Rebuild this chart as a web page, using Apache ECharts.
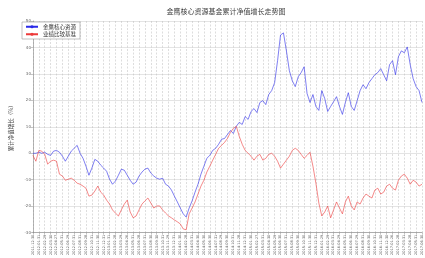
<!DOCTYPE html>
<html>
<head>
<meta charset="utf-8">
<script src="https://cdn.jsdelivr.net/npm/echarts@6/dist/echarts.min.js"></script>
<style>
  html, body { margin: 0; padding: 0; background: #fff; }
  #main { width: 425px; height: 258px; }
</style>
</head>
<body>
<div id="main"></div>
<script>
// 图表标题 / 图例
var chartTitle = '金鹰核心资源基金累计净值增长走势图';
var seriesNames = ['金鹰核心资源', '业绩比较基准'];

// x 轴刻度（每个刻度之间还有一个点）
var tickLabels = [
    '2011-12-30', '2012-01-31', '2012-02-29', '2012-03-30', '2012-04-27', '2012-05-31', '2012-06-29',
    '2012-07-31', '2012-08-31', '2012-09-28', '2012-10-31', '2012-11-30', '2012-12-31',
    '2013-01-31', '2013-02-28', '2013-03-29', '2013-04-26', '2013-05-31', '2013-06-28',
    '2013-07-31', '2013-08-30', '2013-09-30', '2013-10-31', '2013-11-29', '2013-12-31',
    '2014-01-30', '2014-02-28', '2014-03-31', '2014-04-30', '2014-05-30', '2014-06-30',
    '2014-07-31', '2014-08-29', '2014-09-30', '2014-10-31', '2014-11-28', '2014-12-31',
    '2015-01-30', '2015-02-27', '2015-03-31', '2015-04-30', '2015-05-29', '2015-06-30',
    '2015-07-31', '2015-08-31', '2015-09-30', '2015-10-30', '2015-11-30', '2015-12-31',
    '2016-01-29', '2016-02-29', '2016-03-31', '2016-04-29', '2016-05-31', '2016-06-30',
    '2016-07-29', '2016-08-31', '2016-09-30', '2016-10-31', '2016-11-30', '2016-12-30',
    '2017-01-26', '2017-02-28', '2017-03-31', '2017-04-28', '2017-05-31', '2017-06-30'
];

// 累计净值增长率 (%)
var fundData = [
    0.0, 0.0, 0.4, 0.0, 0.4, -0.4, -0.8, 0.8, 1.1, 0.4,
    -1.1, -3.0, -1.1, 0.8, 1.9, 3.0, 0.0, -1.9, -4.9, -8.3,
    -5.6, -2.3, -3.0, -4.5, -5.6, -6.8, -9.8, -11.7, -10.5, -8.3,
    -6.0, -6.4, -8.3, -10.2, -11.7, -10.9, -8.6, -7.1, -6.0, -5.6,
    -7.5, -8.6, -9.4, -9.8, -9.4, -11.7, -12.4, -13.9, -16.2, -18.4,
    -20.7, -22.9, -24.1, -20.7, -18.0, -14.7, -11.7, -7.9, -4.9, -1.9,
    -0.8, 1.1, 1.9, 3.4, 5.3, 5.6, 7.1, 8.6, 7.5, 10.2,
    11.7, 10.9, 13.9, 12.8, 15.8, 16.9, 15.4, 19.2, 19.9, 18.4,
    22.2, 23.7, 26.7, 35.0, 44.7, 45.5, 38.7, 31.2, 27.4, 25.2,
    28.9, 30.5, 32.7, 22.6, 19.2, 22.2, 17.7, 16.2, 23.7, 20.7,
    15.8, 17.7, 19.5, 21.4, 17.7, 14.7, 19.2, 22.9, 17.7, 16.2,
    19.9, 23.7, 25.9, 24.4, 26.7, 28.2, 29.7, 30.5, 32.0, 29.7,
    27.4, 33.5, 35.0, 29.7, 36.5, 38.7, 38.0, 40.2, 33.5, 28.2,
    25.2, 23.7, 19.2
];
var benchData = [
    -0.8, -3.0, 1.1, 0.8, -0.4, -4.1, -3.0, -2.6, -3.0, -7.9,
    -8.6, -10.2, -9.8, -9.4, -10.2, -11.3, -11.7, -12.4, -13.2, -16.2,
    -15.8, -14.3, -12.4, -14.7, -15.8, -17.7, -19.2, -21.4, -22.6, -23.7,
    -21.4, -19.2, -17.7, -22.2, -24.4, -23.7, -21.4, -19.2, -18.0, -16.9,
    -18.8, -20.7, -19.9, -19.9, -21.4, -22.6, -23.7, -24.4, -25.2, -25.9,
    -26.7, -28.6, -28.9, -22.9, -20.7, -18.4, -15.4, -12.4, -10.2, -7.1,
    -4.9, -2.6, -0.4, 1.9, 3.0, 4.1, 5.6, 7.9, 9.4, 10.2,
    6.4, 3.4, 1.1, 0.0, -1.1, -2.6, -1.1, -0.4, -2.6, -1.9,
    -0.4, 0.0, -1.1, -3.0, -5.6, -4.1, -2.6, -1.1, 1.1, 1.9,
    1.1, -0.4, -1.9, -0.8, 0.4, -4.9, -11.3, -18.8, -23.7, -22.2,
    -19.9, -24.4, -21.4, -18.4, -20.7, -22.9, -18.4, -16.2, -19.9, -21.4,
    -18.4, -19.2, -16.9, -15.4, -16.2, -16.9, -13.9, -13.2, -15.4, -14.7,
    -12.4, -11.7, -13.2, -13.9, -10.2, -8.6, -7.9, -9.4, -11.7, -10.2,
    -10.9, -12.4, -11.7
];

// 每两个刻度之间插一个中间日期
var categories = [];
for (var i = 0; i < tickLabels.length; i++) {
    categories.push(tickLabels[i]);
    if (i < tickLabels.length - 1) {
        categories.push(tickLabels[i].slice(0, 8) + '15');
    }
}

var myChart = echarts.init(document.getElementById('main'), null, {renderer: 'canvas'});
var option = {
    backgroundColor: '#fff',
    animation: false,
    title: {
        text: chartTitle,
        left: 221,
        textAlign: 'center',
        top: 3,
        textStyle: {
            fontSize: 7,
            fontWeight: 'normal',
            color: '#444',
            fontFamily: 'Noto Sans CJK SC'
        }
    },
    legend: {
        data: seriesNames,
        orient: 'vertical',
        left: 22,
        top: 22,
        itemWidth: 12,
        itemHeight: 4,
        itemGap: 2,
        padding: [2, 4, 2, 3],
        backgroundColor: '#fff',
        borderColor: '#999',
        borderWidth: 0.6,
        borderRadius: 0,
        textStyle: {fontSize: 5.5, color: '#333', fontFamily: 'Noto Sans CJK SC'}
    },
    grid: {left: 20, right: 3, top: 21, bottom: 23},
    xAxis: {
        type: 'category',
        boundaryGap: false,
        data: categories,
        axisLine: {onZero: false, lineStyle: {color: '#888', width: 0.6}},
        axisTick: {show: true, interval: 1, length: 2, lineStyle: {color: '#888', width: 0.5}},
        axisLabel: {
            interval: 1,
            rotate: 90,
            fontSize: 3.5,
            color: '#555',
            margin: 2,
            fontFamily: 'DejaVu Sans'
        },
        splitLine: {
            show: true,
            interval: 1,
            lineStyle: {type: [2, 1.5], color: '#bbb', width: 0.5}
        }
    },
    yAxis: {
        type: 'value',
        min: -30,
        max: 50,
        interval: 10,
        name: '累计净值增长（%）',
        nameLocation: 'middle',
        nameGap: 11,
        nameRotate: 90,
        nameTextStyle: {fontSize: 5.5, color: '#444', fontFamily: 'Noto Sans CJK SC'},
        axisLine: {show: true, lineStyle: {color: '#888', width: 0.6}},
        axisTick: {show: true, length: 2, lineStyle: {color: '#888', width: 0.5}},
        axisLabel: {fontSize: 4, color: '#666', margin: 2, fontFamily: 'DejaVu Sans'},
        splitLine: {show: true, lineStyle: {color: '#c8c8c8', width: 0.5}}
    },
    series: [
        {
            name: seriesNames[0],
            type: 'line',
            data: fundData,
            symbol: 'none',
            lineStyle: {color: '#2a2ae8', width: 0.6},
            itemStyle: {color: '#2a2ae8'}
        },
        {
            name: seriesNames[1],
            type: 'line',
            data: benchData,
            symbol: 'none',
            lineStyle: {color: '#ec3a3a', width: 0.6},
            itemStyle: {color: '#ec3a3a'}
        }
    ]
};
myChart.setOption(option);
</script>
</body>
</html>
